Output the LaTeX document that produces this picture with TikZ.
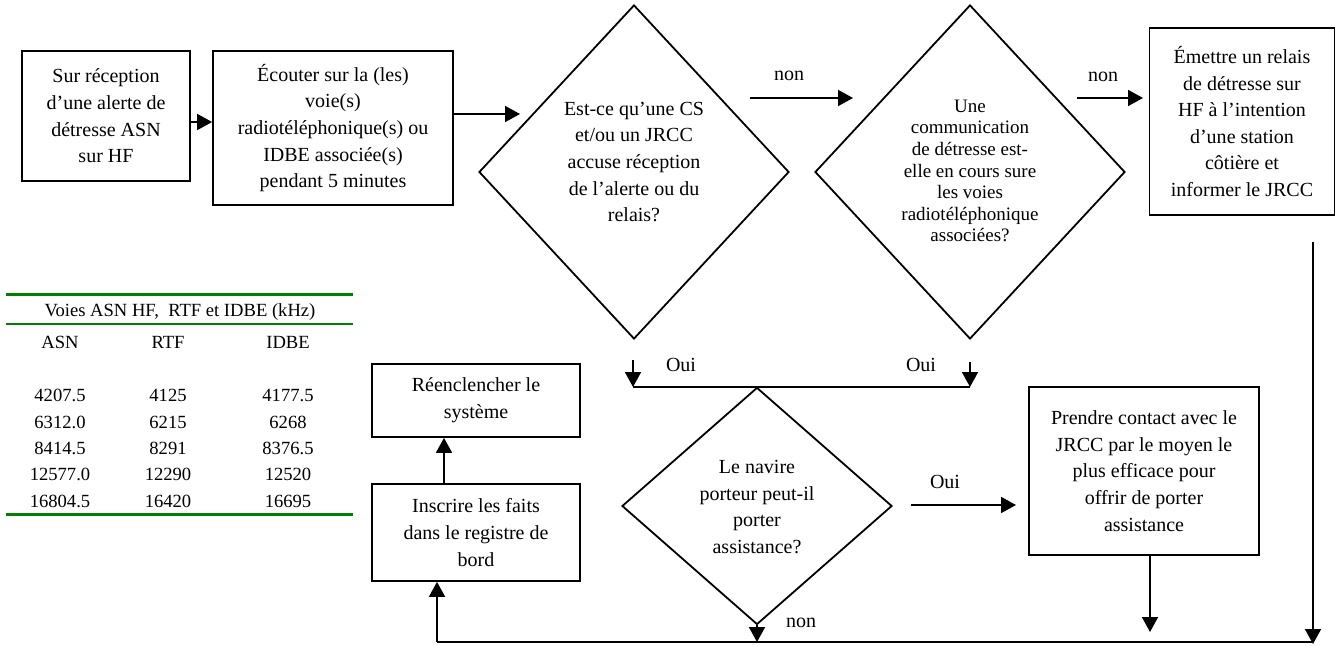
\documentclass[tikz,border=0pt]{standalone}
\usepackage{fontspec}
\setmainfont{Liberation Serif}
\usetikzlibrary{arrows.meta, shapes.geometric}
\definecolor{tablegreen}{RGB}{0,128,0}

\begin{document}
\begin{tikzpicture}[x=0.5pt, y=-0.5pt, font=\fontsize{10}{13.3}\selectfont,
    line width=0.9pt, >={Triangle[length=7.5pt, width=8pt]},
    stepbox/.style={draw, rectangle, align=center, inner sep=2pt},
    decision/.style={draw, diamond, inner sep=0pt},
    qtext/.style={align=center, inner sep=0pt},
    lbl/.style={inner sep=0pt},
    tabtext/.style={inner sep=0pt, font=\fontsize{9.3}{11}\selectfont}]

    \useasboundingbox (0,0) rectangle (1336,646);

    % 1. Process boxes
    \node[stepbox, minimum width=84pt, minimum height=65pt] (recv) at (106,116)
        {Sur réception\\d’une alerte de\\détresse ASN\\sur HF};
    \node[stepbox, minimum width=120pt, minimum height=77pt] (listen) at (333,128)
        {Écouter sur la (les)\\voie(s)\\radiotéléphonique(s) ou\\IDBE associée(s)\\pendant 5 minutes};
    \node[stepbox, minimum width=92.5pt, minimum height=93.5pt] (relay) at (1242,121.5)
        {Émettre un relais\\de détresse sur\\HF à l’intention\\d’une station\\côtière et\\informer le JRCC};
    \node[stepbox, minimum width=115pt, minimum height=84pt] (contact) at (1144,471)
        {Prendre contact avec le\\JRCC par le moyen le\\plus efficace pour\\offrir de porter\\assistance};
    \node[stepbox, minimum width=104pt, minimum height=48.5pt] (log) at (476,532.5)
        {Inscrire les faits\\dans le registre de\\bord};
    \node[stepbox, minimum width=104pt, minimum height=36.5pt] (reset) at (476,400.5)
        {Réenclencher le\\système};

    % 2. Decisions (shape, then its question)
    \node[decision, minimum width=155pt, minimum height=167pt] (ack) at (634,172) {};
    \node[qtext] (acktext) at (634,162)
        {Est-ce qu’une CS\\et/ou un JRCC\\accuse réception\\de l’alerte ou du\\relais?};
    \node[decision, minimum width=155pt, minimum height=167pt] (talk) at (970,172) {};
    \node[qtext, font=\fontsize{9.5}{10.8}\selectfont] (talktext) at (970,171)
        {Une\\communication\\de détresse est-\\elle en cours sure\\les voies\\radiotéléphonique\\associées?};
    \node[decision, minimum width=135pt, minimum height=118.5pt] (assist) at (757,506) {};
    \node[qtext] (assisttext) at (757,507)
        {Le navire\\porteur peut-il\\porter\\assistance?};

    % 3. Free ends of the connectors
    \coordinate (ackin) at (520,114);
    \coordinate (non1a) at (750,98);
    \coordinate (non1b) at (853,98);
    \coordinate (non2a) at (1077,98);
    \coordinate (non2b) at (1143,98);
    \coordinate (ouiL) at (633,360);
    \coordinate (ouiR) at (970,362);
    \coordinate (joinL) at (633,387);
    \coordinate (joinR) at (970,387);
    \coordinate (ouiA) at (911,505);
    \coordinate (ouiB) at (1016,505);
    \coordinate (contactdown) at (1150,632);
    \coordinate (relaydown) at (1313,242);
    \coordinate (corner) at (1313,644);
    \coordinate (bottomL) at (437,642);
    \coordinate (bottomR) at (1313,642);

    % 4. Connectors
    \draw[->] ([yshift=-3pt]recv.east) -- ([yshift=-3pt]recv.east -| listen.west);
    \draw[->] (listen.east |- ackin) -- (ackin);
    \draw[->] (non1a) -- (non1b);
    \draw[->] (non2a) -- (non2b);
    \draw[->] (ouiL) -- (joinL);
    \draw[->] (ouiR) -- (joinR);
    \draw (joinL) -- (joinR);
    \draw[->] (ouiA) -- (ouiB);
    \draw[->] (contact.south -| contactdown) -- (contactdown);
    \draw[->] (relaydown) -- (corner);
    \draw (bottomL) -- (bottomR);
    \draw[->] (assist.south) -- (assist.south |- bottomL);
    \draw[->] (bottomL) -- (log.south -| bottomL);
    \draw[->] ([xshift=-16pt]log.north) -- ([xshift=-16pt]reset.south);

    % 5. Connector labels
    \node[lbl] (non1) at (789,76) {non};
    \node[lbl] (non2) at (1103,77) {non};
    \node[lbl] (oui1) at (681,365) {Oui};
    \node[lbl] (oui2) at (921,365) {Oui};
    \node[lbl] (oui3) at (945,482) {Oui};
    \node[lbl] (non3) at (801,623) {non};

    % 6. Frequency table
    \draw[tablegreen, line width=1.5pt] (6,295) -- (353,295);
    \draw[tablegreen, line width=1pt] (6,324) -- (353,324);
    \draw[tablegreen, line width=1.5pt] (6,514) -- (353,514);
    \node[tabtext] (tabtitle) at (180,312) {Voies ASN HF,~ RTF et IDBE (kHz)};
    \foreach \x/\name in {60/ASN, 168/RTF, 288/IDBE} {
        \node[tabtext] (head\name) at (\x,342) {\name};
    }
    \foreach \y/\asn/\rtf/\idbe in {
        395/4207.5/4125/4177.5, 422/6312.0/6215/6268, 448/8414.5/8291/8376.5,
        474/12577.0/12290/12520, 501/16804.5/16420/16695%
    } {
        \node[tabtext] (asn\y) at (60,\y) {\asn};
        \node[tabtext] (rtf\y) at (168,\y) {\rtf};
        \node[tabtext] (idbe\y) at (288,\y) {\idbe};
    }

\end{tikzpicture}
\end{document}
